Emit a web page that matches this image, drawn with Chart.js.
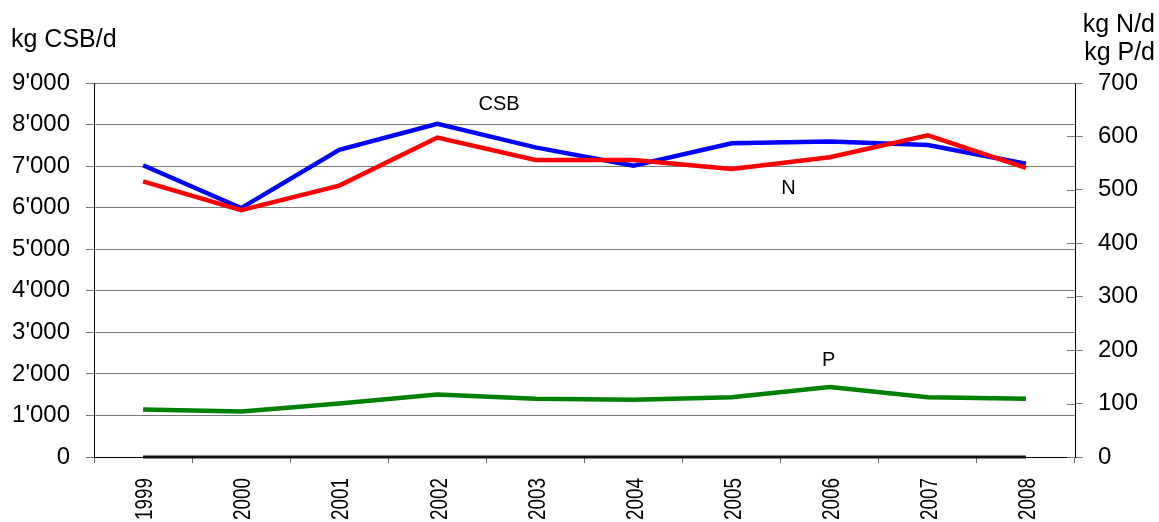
<!DOCTYPE html>
<html>
<head>
<meta charset="utf-8">
<script src="https://cdn.jsdelivr.net/npm/chart.js@4.4.1/dist/chart.umd.min.js"></script>
<style>
html,body{margin:0;padding:0;background:#fff;}
#c{display:block;}
</style>
</head>
<body>
<canvas id="c" width="1159" height="522"></canvas>
<script>
const years = ['1999','2000','2001','2002','2003','2004','2005','2006','2007','2008'];
const csb = [7020, 5990, 7390, 8020, 7450, 7010, 7550, 7590, 7510, 7055];   // kg CSB/d (left axis)
const nitrogen = [516, 462, 508, 598, 556, 556, 539, 561, 602, 541];          // kg N/d (right axis)
const phosphorus = [89, 85, 100, 117, 109, 107, 112, 131, 112, 109];         // kg P/d (right axis)
const zeroLine = [0, 0, 0, 0, 0, 0, 0, 0, 0, 0];
const leftTicks = [0, 1000, 2000, 3000, 4000, 5000, 6000, 7000, 8000, 9000];
const rightTicks = [0, 100, 200, 300, 400, 500, 600, 700];

const FONT = '"Liberation Sans", Arial, Helvetica, sans-serif';
const GRID = '#7a7a7a';

function fmtThousands(v){
  return String(v).replace(/\B(?=(\d{3})+(?!\d))/g, "'");
}

const textPlugin = {
  id: 'texts',
  afterDraw(chart){
    const ctx = chart.ctx;
    const ca = chart.chartArea;
    const xs = chart.scales.x, yl = chart.scales.y, yr = chart.scales.y2;
    ctx.save();
    // inner stubs of right-axis ticks
    ctx.strokeStyle = GRID;
    ctx.lineWidth = 1;
    rightTicks.forEach(v => {
      const py = Math.round(yr.getPixelForValue(v)) + 0.5;
      ctx.beginPath();
      ctx.moveTo(ca.right - 8, py);
      ctx.lineTo(ca.right, py);
      ctx.stroke();
    });
    // rotated, condensed category labels
    ctx.fillStyle = '#000';
    ctx.font = '23px ' + FONT;
    ctx.textAlign = 'right';
    ctx.textBaseline = 'alphabetic';
    years.forEach((lab, i) => {
      const px = xs.getPixelForValue(i);
      ctx.save();
      ctx.translate(px + 1, ca.bottom + 21);
      ctx.rotate(-Math.PI / 2);
      ctx.scale(0.82, 1);
      ctx.fillText(lab, 0, 8.2);
      ctx.restore();
    });
    // axis titles
    ctx.font = '25px ' + FONT;
    ctx.textBaseline = 'alphabetic';
    ctx.textAlign = 'left';
    ctx.fillText('kg CSB/d', 11, 47);
    ctx.textAlign = 'right';
    ctx.fillText('kg N/d', 1155, 32);
    ctx.fillText('kg P/d', 1155, 60);
    // series labels
    ctx.font = '20px ' + FONT;
    ctx.textAlign = 'center';
    ctx.textBaseline = 'middle';
    ctx.fillText('CSB', xs.getPixelForValue(3.63), yl.getPixelForValue(8480));
    ctx.fillText('N', xs.getPixelForValue(6.58), yr.getPixelForValue(502));
    ctx.fillText('P', xs.getPixelForValue(6.99), yr.getPixelForValue(181));
    ctx.restore();
  }
};

new Chart(document.getElementById('c'), {
  type: 'line',
  data: {
    labels: years,
    datasets: [
      { label: 'N', data: nitrogen, yAxisID: 'y2', borderColor: '#ff0000', borderWidth: 4.5, order: 1 },
      { label: 'CSB', data: csb, yAxisID: 'y', borderColor: '#0000ff', borderWidth: 4.5, order: 2 },
      { label: 'P', data: phosphorus, yAxisID: 'y2', borderColor: '#008000', borderWidth: 4.5, order: 3 },
      { label: 'zero', data: zeroLine, yAxisID: 'y', borderColor: '#111111', borderWidth: 3, order: 4, clip: false }
    ]
  },
  options: {
    responsive: false,
    animation: false,
    events: [],
    elements: { point: { radius: 0 }, line: { tension: 0, borderCapStyle: 'butt', borderJoinStyle: 'miter' } },
    layout: { padding: { top: 83, left: 0, right: 0, bottom: 0 } },
    plugins: { legend: { display: false }, tooltip: { enabled: false } },
    scales: {
      x: {
        offset: true,
        grid: { drawOnChartArea: false, drawTicks: true, tickLength: 6, color: '#666', offset: true },
        border: { color: '#000', width: 1 },
        ticks: { display: false, autoSkip: false },
        afterFit(s){ s.height = 65; }
      },
      y: {
        position: 'left',
        min: 0, max: 9000,
        afterBuildTicks(s){ s.ticks = leftTicks.map(v => ({ value: v })); },
        grid: { color: GRID, tickLength: 8, lineWidth: 1 },
        border: { color: '#000', width: 1 },
        ticks: { color: '#000', font: { family: FONT, size: 24 }, padding: 16, callback: v => fmtThousands(v) },
        afterFit(s){ s.width = 94; }
      },
      y2: {
        position: 'right',
        min: 0, max: 700,
        afterBuildTicks(s){ s.ticks = rightTicks.map(v => ({ value: v })); },
        grid: { drawOnChartArea: false, color: GRID, tickLength: 8 },
        border: { color: '#000', width: 1 },
        ticks: { color: '#000', font: { family: FONT, size: 24 }, padding: 15, callback: v => String(v) },
        afterFit(s){ s.width = 84; }
      }
    }
  },
  plugins: [textPlugin]
});
</script>
</body>
</html>
